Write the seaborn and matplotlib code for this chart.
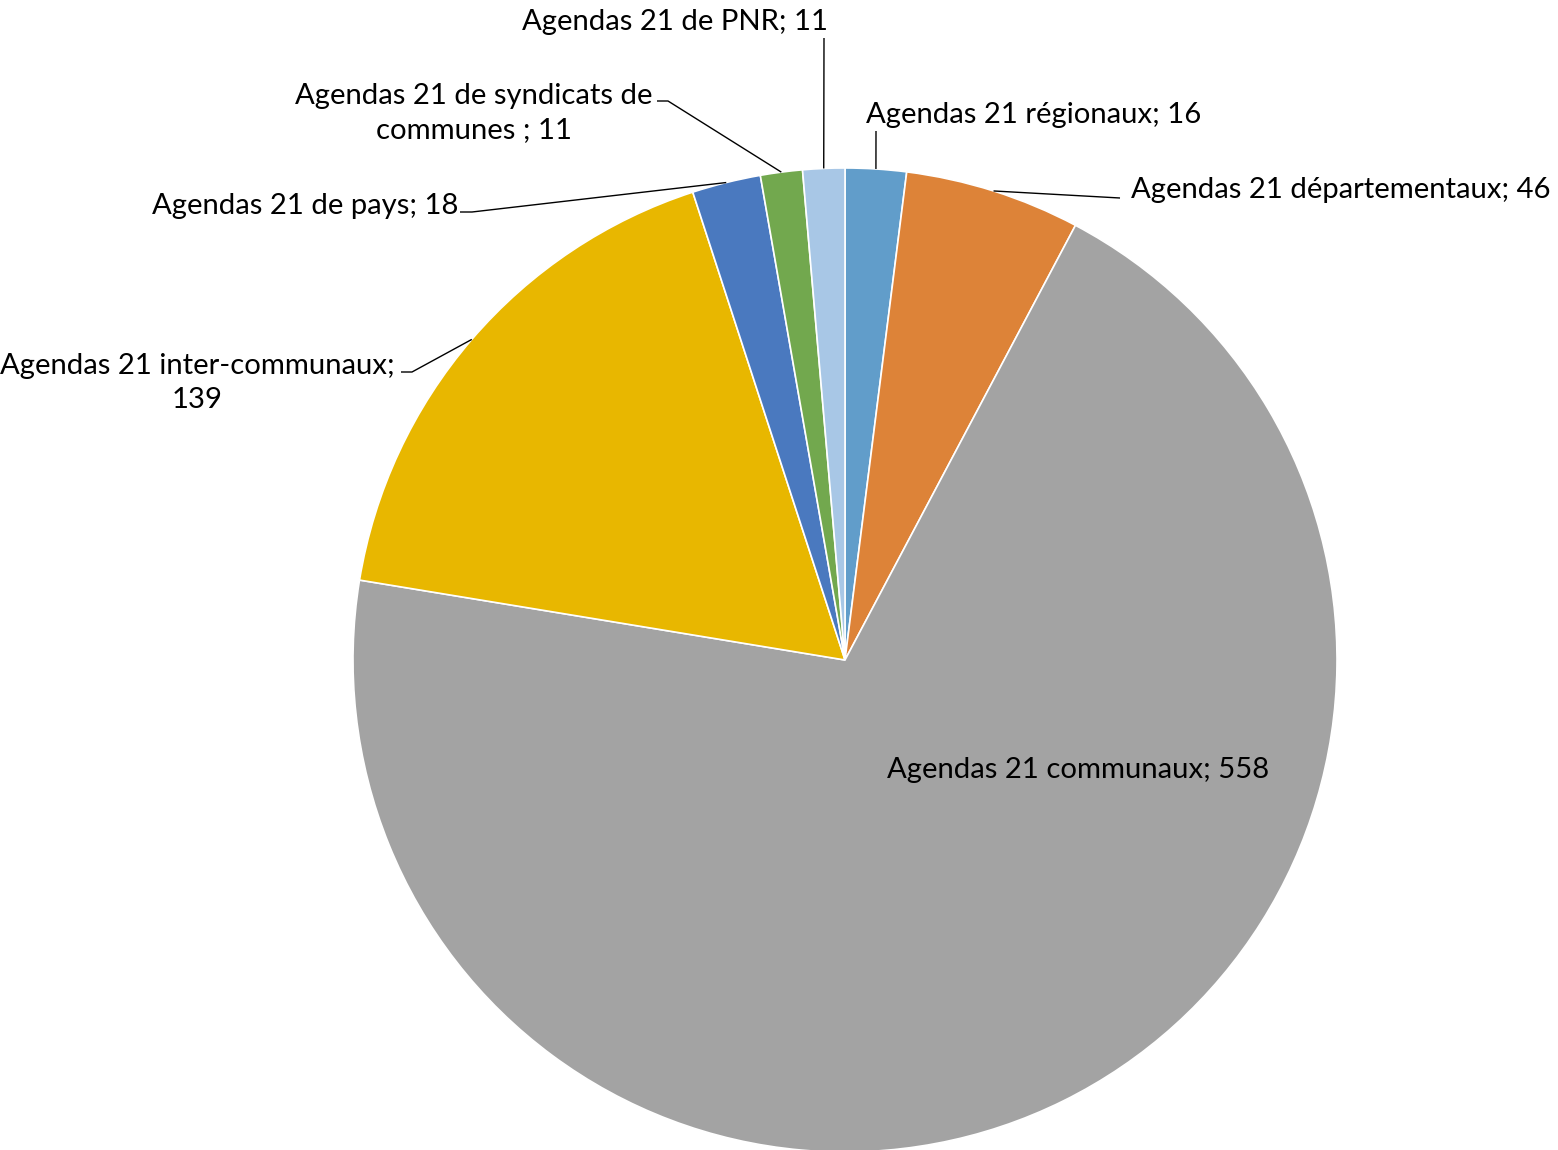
import matplotlib
matplotlib.use("Agg")
import matplotlib.pyplot as plt
import seaborn as sns
import numpy as np

# ---- data ----
categories = [
    "Agendas 21 régionaux",
    "Agendas 21 départementaux",
    "Agendas 21 communaux",
    "Agendas 21 inter-communaux",
    "Agendas 21 de pays",
    "Agendas 21 de syndicats de communes ",
    "Agendas 21 de PNR",
]
values = [16, 46, 558, 139, 18, 11, 11]
label_texts = [
    "Agendas 21 régionaux; 16",
    "Agendas 21 départementaux; 46",
    "Agendas 21 communaux; 558",
    "Agendas 21 inter-communaux;\n139",
    "Agendas 21 de pays; 18",
    "Agendas 21 de syndicats de\ncommunes ; 11",
    "Agendas 21 de PNR; 11",
]
colors = ["#619dca", "#dd8338", "#a3a3a3", "#e8b700", "#4a79bf", "#72a84e", "#a8c7e6"]

# ---- layout (pixels in the 1558x1150 image) ----
W, H = 1558, 1150
CX, CY, R = 845, 660, 492
# text anchor (x, y, ha), leader line extra points (from near wedge outward)
label_layout = [
    ((866, 115, "left"), [(876, 131)]),
    ((1131, 190, "left"), [(1120, 198)]),
    ((1078, 770, "center"), None),
    ((197, 383, "center"), [(412, 372), (401, 372)]),
    ((305, 206, "center"), [(472, 212), (460, 212)]),
    ((474, 113, "center"), [(668, 101), (657, 101)]),
    ((675, 22, "center"), [(824, 38)]),
]


def px(x, y):
    return (x - CX) / R, (CY - y) / R


sns.set_theme(style="white")
plt.rcParams["font.family"] = ["Lato", "DejaVu Sans"]

fig = plt.figure(figsize=(W / 100, H / 100), dpi=100)
ax = fig.add_axes([0, 0, 1, 1])
wedges, _ = ax.pie(
    values,
    startangle=90,
    counterclock=False,
    colors=colors,
    radius=1.0,
    wedgeprops=dict(edgecolor="white", linewidth=1.2),
)
ax.set_xlim(-CX / R, (W - CX) / R)
ax.set_ylim((CY - H) / R, CY / R)
ax.set_aspect("equal")
ax.axis("off")

texts = []
for w, txt, (tpos, pts) in zip(wedges, label_texts, label_layout):
    tx, ty, ha = tpos
    x, y = px(tx, ty)
    t = ax.text(x, y, txt, ha=ha, va="center", fontsize=22, color="black",
                linespacing=1.35, multialignment="center")
    texts.append(t)
    if pts:
        mid = np.deg2rad((w.theta1 + w.theta2) / 2)
        xs = [np.cos(mid)]
        ys = [np.sin(mid)]
        for p in pts:
            a, b = px(*p)
            xs.append(a)
            ys.append(b)
        ax.plot(xs, ys, color="black", lw=1.0, solid_capstyle="butt")

# fit font size so the communaux label is about 382 px wide
fig.canvas.draw()
rend = fig.canvas.get_renderer()
wref = texts[2].get_window_extent(rend).width
fs = 22 * 382 / wref
for t in texts:
    t.set_fontsize(fs)

fig.savefig("out.png", dpi=100)
